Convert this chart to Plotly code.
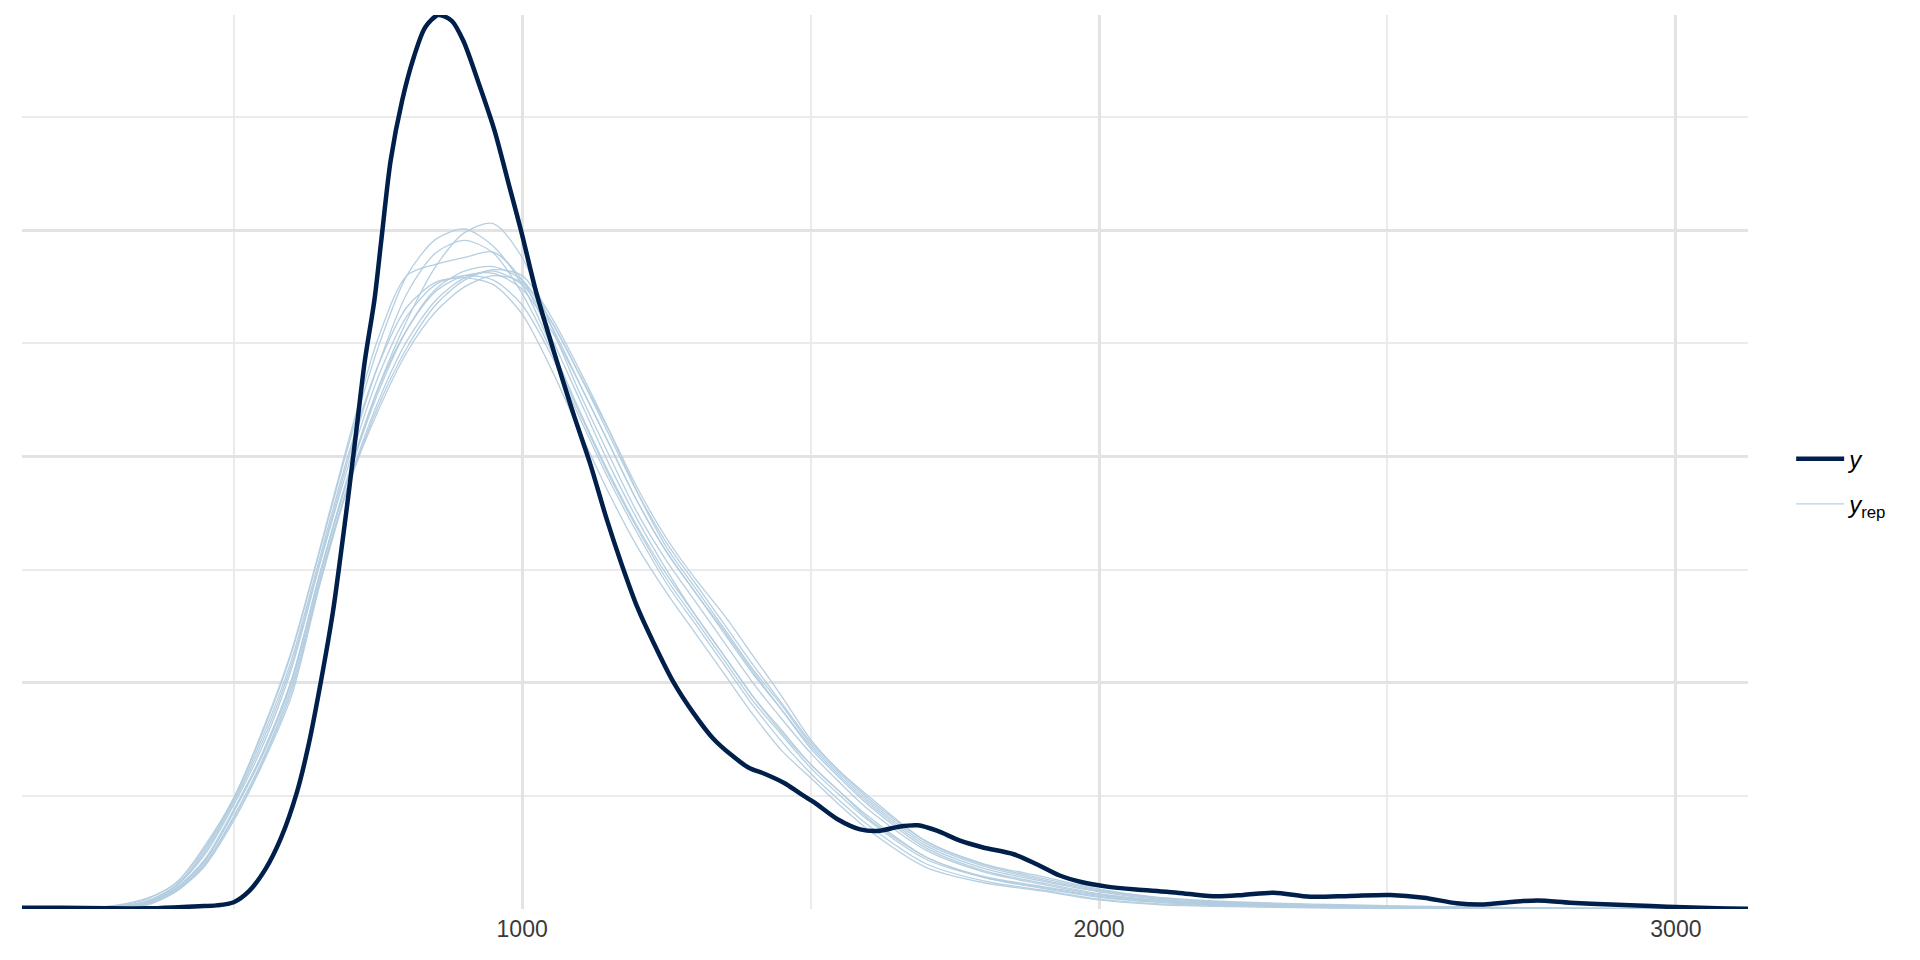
import plotly.graph_objects as go

COLOR_Y = "#011f4b"
COLOR_YREP = "#b3cde0"
GRID_MAJOR = "#e3e3e3"
GRID_MINOR = "#ebebeb"

Y_X = [133, 200, 280, 350, 404, 440, 470, 500, 527, 555, 582, 610, 630, 651, 672, 685,
       699, 713, 727, 744, 756, 772, 792, 812, 832, 855, 878, 898, 925, 952, 978, 998,
       1025, 1055, 1075, 1090, 1118, 1146, 1173, 1200, 1228, 1262, 1297, 1331, 1365, 1393,
       1420, 1455, 1481, 1507, 1546, 1586, 1620, 1653, 1686, 1719, 1759, 1799, 1852, 1892,
       1932, 1971, 2011, 2064, 2117, 2157, 2204, 2250, 2303, 2366, 2435, 2505, 2563, 2620,
       2667, 2713, 2760, 2817, 2887, 2957, 3014, 3072, 3125]
Y_D = [3, 2.5, 1.5, 1.5, 4, 6, 8, 15, 40, 88, 157, 260, 364, 502, 657, 778,
       916, 1062, 1209, 1347, 1480, 1654, 1787, 1882, 1949, 1976, 1963, 1919, 1824, 1721, 1596, 1500,
       1360, 1232, 1150, 1090, 984, 864, 760, 666, 588, 502, 433, 377, 338, 312,
       299, 278, 256, 235, 199, 176, 173, 182, 185, 173, 151, 136, 121, 99,
       74, 59, 50, 43, 38, 33, 28, 31, 36, 27, 29, 31, 25, 12.5,
       10, 15.5, 19, 14, 10, 6.6, 3.7, 1.5, 0.7]

# replicated densities, same grid for every draw (density*1e6)
YREP_X = [133, 250, 300, 350, 400, 450, 500, 550, 600, 650, 700, 750, 800, 850, 900, 950,
          1000, 1050, 1100, 1150, 1200, 1250, 1300, 1350, 1400, 1450, 1500, 1550, 1600,
          1700, 1800, 1900, 2000, 2100, 2200, 2400, 2600, 2800, 3000, 3125]
YREP_1 = [0, 1, 4, 14, 45, 105, 215, 340, 500, 740, 960, 1150, 1300, 1420, 1495, 1515, 1440, 1290, 1140, 1005, 875, 770, 680, 590, 500, 420, 345, 280, 220, 130, 82, 55, 32, 19, 12, 5, 2, 1, 0, 0]
YREP_2 = [0, 3, 8, 22, 58, 135, 245, 390, 565, 795, 1030, 1240, 1400, 1480, 1503, 1465, 1380, 1245, 1100, 965, 845, 740, 650, 560, 470, 395, 320, 260, 205, 115, 70, 46, 26, 15, 9, 4, 2, 1, 0, 0]
YREP_3 = [0, 2, 6, 18, 52, 125, 235, 370, 540, 770, 1000, 1200, 1360, 1450, 1478, 1450, 1360, 1235, 1095, 960, 840, 730, 640, 550, 460, 385, 312, 252, 196, 110, 70, 48, 28, 16, 10, 5, 2, 1, 0, 0]
YREP_4 = [0, 3, 9, 24, 57, 140, 245, 395, 570, 800, 1040, 1260, 1400, 1425, 1440, 1452, 1390, 1265, 1125, 985, 860, 750, 650, 560, 470, 390, 320, 260, 200, 115, 72, 50, 30, 17, 11, 5, 2, 1, 0, 0]
YREP_5 = [0, 1, 4, 13, 46, 110, 220, 345, 505, 745, 960, 1140, 1280, 1370, 1410, 1420, 1390, 1300, 1180, 1060, 930, 820, 730, 650, 560, 470, 375, 305, 250, 150, 100, 72, 44, 26, 18, 10, 5, 2, 1, 0]
YREP_6 = [0, 1, 3, 11, 42, 100, 205, 330, 490, 730, 945, 1120, 1255, 1345, 1395, 1410, 1380, 1290, 1160, 1030, 900, 790, 700, 610, 520, 440, 360, 295, 235, 140, 90, 62, 38, 22, 14, 7, 3, 1, 0, 0]
YREP_7 = [0, 2, 5, 15, 50, 120, 230, 360, 530, 765, 985, 1175, 1310, 1380, 1400, 1390, 1335, 1225, 1085, 950, 830, 720, 630, 540, 450, 370, 300, 240, 185, 100, 62, 42, 22, 12, 8, 3, 1, 0, 0, 0]
YREP_8 = [0, 1, 3, 10, 40, 98, 200, 325, 480, 725, 940, 1110, 1240, 1335, 1390, 1413, 1400, 1310, 1190, 1060, 920, 800, 710, 620, 530, 450, 365, 300, 240, 145, 95, 65, 40, 24, 16, 8, 4, 2, 1, 0]
YREP_9 = [0, 2, 6, 17, 52, 130, 240, 380, 550, 780, 1010, 1200, 1330, 1385, 1395, 1380, 1315, 1195, 1055, 920, 800, 700, 610, 520, 430, 350, 290, 230, 175, 92, 58, 40, 20, 10, 6, 2, 1, 0, 0, 0]
YREP_10 = [0, 1, 4, 12, 45, 108, 215, 345, 505, 745, 965, 1150, 1280, 1365, 1400, 1405, 1370, 1280, 1160, 1030, 900, 790, 700, 615, 525, 440, 355, 290, 230, 135, 85, 58, 34, 20, 13, 6, 3, 1, 0, 0]
YREP_11 = [0, 1, 3, 9, 38, 95, 195, 320, 470, 720, 940, 1100, 1230, 1320, 1375, 1400, 1385, 1300, 1180, 1050, 920, 810, 720, 630, 540, 455, 370, 305, 245, 150, 98, 68, 42, 25, 16, 8, 4, 2, 1, 0]
YREP_ALL = [YREP_1, YREP_2, YREP_3, YREP_4, YREP_5, YREP_6, YREP_7, YREP_8, YREP_9, YREP_10, YREP_11]

X_RANGE = [133, 3125]
X_TICKS = [1000, 2000, 3000]

fig = go.Figure()

for i, dens in enumerate(YREP_ALL):
    fig.add_trace(
        go.Scatter(
            x=YREP_X,
            y=[d * 1e-6 for d in dens],
            mode="lines",
            name="<i>y</i><sub>rep</sub>",
            legendgroup="yrep",
            legendrank=2,
            showlegend=i == 0,
            line=dict(color=COLOR_YREP, width=1.3, shape="spline", smoothing=0.8),
            opacity=0.95,
            hoverinfo="skip",
        )
    )

fig.add_trace(
    go.Scatter(
        x=Y_X,
        y=[d * 1e-6 for d in Y_D],
        mode="lines",
        name="<i>y</i>",
        legendgroup="y",
        legendrank=1,
        line=dict(color=COLOR_Y, width=4.5, shape="spline", smoothing=0.8),
        hoverinfo="skip",
    )
)

# the page body has an 8px margin, so the figure is 8px smaller and the margins shifted
fig.update_layout(
    width=1912,
    height=952,
    margin=dict(l=14, r=172, t=7, b=51, pad=0),
    paper_bgcolor="white",
    plot_bgcolor="white",
    font=dict(family="Liberation Sans, Arial, sans-serif", color="#000"),
    legend=dict(
        x=1.025,
        xanchor="left",
        y=0.478,
        yanchor="middle",
        font=dict(size=24, color="#000"),
        itemwidth=48,
        traceorder="grouped",
        tracegroupgap=11,
        bgcolor="rgba(0,0,0,0)",
    ),
    xaxis=dict(
        range=X_RANGE,
        tickmode="array",
        tickvals=X_TICKS,
        ticktext=[str(t) for t in X_TICKS],
        tickfont=dict(size=23, color="#3a3a3a"),
        ticks="",
        ticklabelstandoff=4,
        showgrid=True,
        gridcolor=GRID_MAJOR,
        gridwidth=2.5,
        zeroline=False,
        showline=False,
        minor=dict(tickvals=[500, 1500, 2500], showgrid=True, gridcolor=GRID_MINOR, gridwidth=1.6),
    ),
    yaxis=dict(
        range=[0, 0.001976],
        tick0=0,
        dtick=0.0005,
        showticklabels=False,
        ticks="",
        showgrid=True,
        gridcolor=GRID_MAJOR,
        gridwidth=2.5,
        zeroline=False,
        showline=False,
        minor=dict(tick0=0.00025, dtick=0.0005, showgrid=True, gridcolor=GRID_MINOR, gridwidth=1.6),
    ),
)

fig.write_html("out.html")
